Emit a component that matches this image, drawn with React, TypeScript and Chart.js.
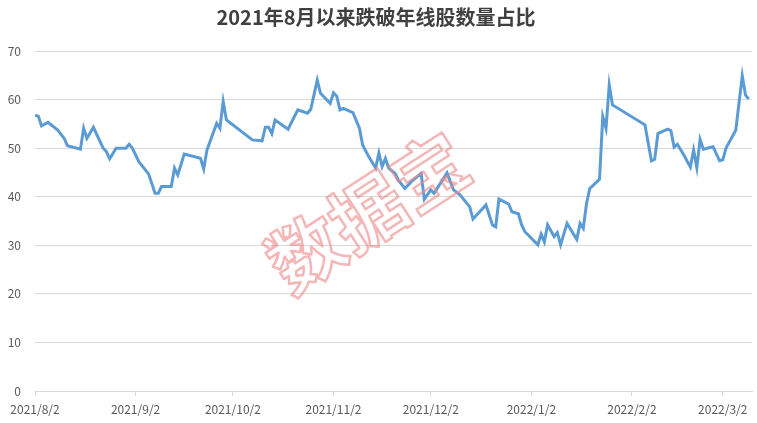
import React, { useEffect, useRef } from "react";
import { Chart, registerables } from "chart.js";

Chart.register(...registerables);

const TITLE = "2021年8月以来跌破年线股数量占比";
const WATERMARK = "数据宝";

const startDate = "2021/8/2";

const tickLabels = [
  "2021/8/2",
  "2021/9/2",
  "2021/10/2",
  "2021/11/2",
  "2021/12/2",
  "2022/1/2",
  "2022/2/2",
  "2022/3/2",
];

const dates = [
  "2021/8/2", "2021/8/3", "2021/8/4", "2021/8/6", "2021/8/9", "2021/8/11", "2021/8/12",
  "2021/8/16", "2021/8/17", "2021/8/18", "2021/8/20", "2021/8/23", "2021/8/24", "2021/8/25",
  "2021/8/27", "2021/8/30", "2021/8/31", "2021/9/1", "2021/9/3", "2021/9/6", "2021/9/8",
  "2021/9/9", "2021/9/10", "2021/9/13", "2021/9/14", "2021/9/15", "2021/9/17", "2021/9/22",
  "2021/9/23", "2021/9/24", "2021/9/27", "2021/9/28", "2021/9/29", "2021/9/30", "2021/10/8",
  "2021/10/11", "2021/10/12", "2021/10/13", "2021/10/14", "2021/10/15", "2021/10/19", "2021/10/22",
  "2021/10/25", "2021/10/26", "2021/10/28", "2021/10/29", "2021/11/1", "2021/11/2", "2021/11/3",
  "2021/11/4", "2021/11/5", "2021/11/8", "2021/11/10", "2021/11/11", "2021/11/13", "2021/11/15",
  "2021/11/16", "2021/11/17", "2021/11/18", "2021/11/19", "2021/11/21", "2021/11/22", "2021/11/24",
  "2021/11/26", "2021/11/29", "2021/11/30", "2021/12/2", "2021/12/3", "2021/12/7", "2021/12/9",
  "2021/12/11", "2021/12/14", "2021/12/15", "2021/12/19", "2021/12/21", "2021/12/22", "2021/12/23",
  "2021/12/26", "2021/12/27", "2021/12/29", "2021/12/30", "2021/12/31", "2022/1/4", "2022/1/5",
  "2022/1/6", "2022/1/7", "2022/1/9", "2022/1/10", "2022/1/11", "2022/1/13", "2022/1/16",
  "2022/1/17", "2022/1/18", "2022/1/19", "2022/1/20", "2022/1/23", "2022/1/24", "2022/1/25",
  "2022/1/26", "2022/1/27", "2022/2/6", "2022/2/8", "2022/2/9", "2022/2/10", "2022/2/13",
  "2022/2/14", "2022/2/15", "2022/2/16", "2022/2/18", "2022/2/20", "2022/2/21", "2022/2/22",
  "2022/2/23", "2022/2/24", "2022/2/27", "2022/3/1", "2022/3/2", "2022/3/3", "2022/3/6",
  "2022/3/8", "2022/3/9", "2022/3/10",
];

const values = [
  56.7, 56.6, 54.6, 55.3, 53.7, 52.0, 50.5,
  49.8, 54.1, 52.0, 54.3, 50.0, 49.3, 47.8,
  50.0, 50.0, 50.8, 50.0, 47.2, 44.7, 40.7,
  40.7, 42.1, 42.1, 45.9, 44.5, 48.8, 47.9,
  45.7, 49.6, 55.1, 54.1, 59.6, 55.8, 51.7,
  51.5, 54.3, 54.3, 53.0, 55.8, 53.9, 57.9,
  57.2, 58.0, 64.0, 61.3, 59.2, 61.4, 60.7,
  57.9, 58.2, 57.3, 54.1, 50.6, 48.1, 45.9,
  49.0, 46.2, 47.9, 45.9, 44.8, 43.4, 41.7,
  43.1, 44.8, 39.5, 41.4, 40.7, 44.9, 41.4,
  40.4, 37.9, 35.4, 38.3, 34.2, 33.8, 39.5,
  38.5, 36.9, 36.5, 34.2, 32.8, 30.1, 32.3,
  30.7, 34.2, 31.8, 32.6, 30.1, 34.5, 31.2,
  34.5, 33.5, 38.6, 41.7, 43.6, 56.5, 54.1,
  63.0, 58.9, 54.8, 47.4, 47.7, 53.0, 53.9,
  53.6, 50.2, 50.8, 48.6, 46.1, 49.6, 46.0,
  51.8, 49.8, 50.3, 47.4, 47.6, 50.0, 53.7,
  64.9, 60.9, 60.1,
];

const yTicks = [0, 10, 20, 30, 40, 50, 60, 70];

const DAY = 86400000;
function toUTC(s: string): number {
  const [y, m, d] = s.split("/").map(Number);
  return Date.UTC(y, m - 1, d);
}
function dayOffset(s: string): number {
  return Math.round((toUTC(s) - toUTC(startDate)) / DAY);
}

const FONT = "'Noto Sans CJK SC', 'Noto Sans', sans-serif";

const watermarkPlugin = {
  id: "watermark",
  afterDatasetsDraw(chart: any) {
    const { ctx, chartArea } = chart;
    const cx = chartArea.left + (chartArea.right - chartArea.left) * 0.464;
    const cy = chartArea.top + (chartArea.bottom - chartArea.top) * 0.474;
    ctx.save();
    ctx.translate(cx, cy);
    ctx.rotate((-33 * Math.PI) / 180);
    ctx.font = `bold 74px ${FONT}`;
    ctx.textAlign = "center";
    ctx.textBaseline = "middle";
    ctx.lineWidth = 2.5;
    ctx.lineJoin = "round";
    ctx.strokeStyle = "rgba(236, 135, 135, 0.6)";
    ctx.strokeText(WATERMARK, 0, 0);
    ctx.restore();
  },
};

export default function App() {
  const ref = useRef<HTMLCanvasElement>(null);

  useEffect(() => {
    document.body.style.margin = "0";
    const canvas = ref.current;
    if (!canvas) return;
    const points = dates.map((d, i) => ({ x: dayOffset(d), y: values[i] }));
    const tickPositions = tickLabels.map(dayOffset);

    const chart = new Chart(canvas, {
      type: "line",
      data: {
        datasets: [
          {
            data: points,
            borderColor: "#5b9bd5",
            borderWidth: 3,
            pointRadius: 0,
            tension: 0,
            fill: false,
          },
        ],
      },
      options: {
        responsive: false,
        animation: false,
        parsing: false as any,
        layout: { padding: { left: 0, right: 5, top: 0, bottom: 0 } },
        plugins: {
          legend: { display: false },
          tooltip: { enabled: false },
          title: {
            display: true,
            text: TITLE,
            color: "#404040",
            font: { family: FONT, size: 20, weight: "bold" },
            padding: { top: 5, bottom: 22 },
          },
        },
        scales: {
          x: {
            type: "linear",
            min: 0,
            max: 221,
            afterBuildTicks(scale: any) {
              scale.ticks = tickPositions.map((v) => ({ value: v }));
            },
            afterFit(scale: any) {
              scale.height = 32;
            },
            ticks: {
              autoSkip: false,
              maxRotation: 0,
              padding: 6,
              color: "#595959",
              font: { family: FONT, size: 12 },
              callback(value: any) {
                const idx = tickPositions.indexOf(Number(value));
                return idx >= 0 ? tickLabels[idx] : "";
              },
            },
            grid: {
              drawOnChartArea: false,
              drawTicks: true,
              tickLength: 5,
              color: "#d9d9d9",
            },
            border: { display: true, color: "#d9d9d9" },
          },
          y: {
            min: 0,
            max: 70,
            afterBuildTicks(scale: any) {
              scale.ticks = yTicks.map((v) => ({ value: v }));
            },
            afterFit(scale: any) {
              scale.width = 35;
            },
            ticks: {
              padding: 14,
              color: "#595959",
              font: { family: FONT, size: 12 },
            },
            grid: { color: "#d9d9d9", drawTicks: false, lineWidth: 1 },
            border: { display: false },
          },
        },
      },
      plugins: [watermarkPlugin],
    });
    return () => chart.destroy();
  }, []);

  return (
    <div style={{ width: 757, height: 423, background: "#fff" }}>
      <canvas ref={ref} width={757} height={423} />
    </div>
  );
}
